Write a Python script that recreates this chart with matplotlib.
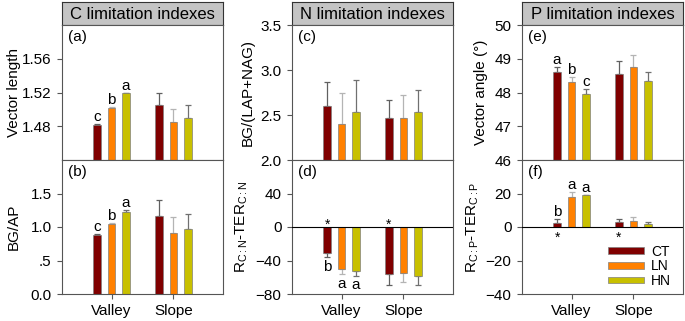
import matplotlib
matplotlib.use("Agg")
import matplotlib.pyplot as plt
from matplotlib.patches import Patch

plt.rcParams['font.family'] = ['Liberation Sans', 'DejaVu Sans']
plt.rcParams['mathtext.fontset'] = 'custom'
plt.rcParams['mathtext.rm'] = 'Liberation Sans'
plt.rcParams['mathtext.it'] = 'Liberation Sans:italic'

sites = ['Valley', 'Slope']
treatments = ['CT', 'LN', 'HN']
colors = ['#800000', '#ff8000', '#c8c000']
err_colors = ['#606060', '#b4b4b4', '#707070']

# rows: CT, LN, HN ; columns: Valley, Slope
vl_mean = [[1.481, 1.505], [1.502, 1.485], [1.519, 1.490]]
vl_err = [[0.002, 0.015], [0.001, 0.016], [0.001, 0.0155]]
vl_letters = [['c', ''], ['b', ''], ['a', '']]

bgap_mean = [[0.88, 1.17], [1.045, 0.915], [1.225, 0.965]]
bgap_err = [[0.01, 0.235], [0.01, 0.24], [0.025, 0.225]]
bgap_letters = [['c', ''], ['b', ''], ['a', '']]

bgn_mean = [[2.604, 2.463], [2.403, 2.47], [2.534, 2.534]]
bgn_err = [[0.265, 0.2], [0.343, 0.25], [0.354, 0.242]]

rcn_mean = [[-31.2, -56.0], [-49.6, -55.2], [-52.0, -58.0]]
rcn_err = [[5.2, 13.6], [6.8, 10.0], [6.0, 11.6]]
rcn_letters = [['b', ''], ['a', ''], ['a', '']]
rcn_stars = ['*', '*']

va_mean = [[48.62, 48.55], [48.31, 48.76], [47.95, 48.34]]
va_err = [[0.15, 0.38], [0.14, 0.36], [0.14, 0.27]]
va_letters = [['a', ''], ['b', ''], ['c', '']]

rcp_mean = [[2.6, 3.2], [18.0, 3.8], [19.0, 1.8]]
rcp_err = [[2.4, 1.4], [3.0, 2.2], [0.4, 1.0]]
rcp_letters = [['b', ''], ['a', ''], ['a', '']]
rcp_stars = ['*', '*']

titles = ['C limitation indexes', 'N limitation indexes', 'P limitation indexes']

W, H = 685, 321
fig = plt.figure(figsize=(W / 100, H / 100), dpi=100)

col_left = [62, 292, 522]
ax_w = 161
spine_c = '#555555'
offsets = [-0.234, 0.0, 0.234]
bar_w = 0.124


def fx(px):
    return px / W


def fy(py_top, py_bot):
    return (H - py_bot) / H, (py_bot - py_top) / H


def make_ax(col, top):
    if top:
        b, h = fy(25, 160)
    else:
        b, h = fy(160, 294)
    ax = fig.add_axes([fx(col_left[col]), b, fx(ax_w), h])
    for s in ax.spines.values():
        s.set_color(spine_c)
        s.set_linewidth(0.8)
    ax.tick_params(axis='y', direction='out', length=3.5, width=0.8,
                   color=spine_c, labelsize=11, pad=4)
    ax.set_xlim(0.2, 2.8)
    if top:
        ax.set_xticks([])
    else:
        ax.set_xticks([1, 2])
        ax.set_xticklabels(sites)
        ax.tick_params(axis='x', direction='out', length=3.5, width=0.8,
                       color=spine_c, labelsize=11, pad=4)
    return ax


def draw_bars(ax, mean, err, letters=None, stars=None, star_up=True):
    for i in range(3):
        xs = [s + 1 + offsets[i] for s in range(2)]
        ax.bar(xs, mean[i], width=bar_w, color=colors[i],
               edgecolor='#808080', linewidth=0.5, zorder=2)
        lo = [e if m < 0 else 0 for m, e in zip(mean[i], err[i])]
        hi = [e if m >= 0 else 0 for m, e in zip(mean[i], err[i])]
        ax.errorbar(xs, mean[i], yerr=[lo, hi], fmt='none',
                    ecolor=err_colors[i], elinewidth=0.9, capsize=2,
                    capthick=0.9, zorder=1)
        if letters:
            for x, m, e, t in zip(xs, mean[i], err[i], letters[i]):
                if not t:
                    continue
                if m >= 0:
                    ax.annotate(t, (x, m + e), xytext=(0, 0),
                                textcoords='offset points', ha='center',
                                va='bottom', fontsize=11)
                else:
                    ax.annotate(t, (x, m - e), xytext=(0, -2),
                                textcoords='offset points', ha='center',
                                va='top', fontsize=11)
    if stars:
        for s, t in enumerate(stars):
            x = s + 1 + offsets[0]
            if star_up:
                ax.annotate(t, (x, 0), xytext=(0, -1.5),
                            textcoords='offset points', ha='center',
                            va='baseline', fontsize=10)
            else:
                ax.annotate(t, (x, 0), xytext=(0, -11),
                            textcoords='offset points', ha='center',
                            va='baseline', fontsize=10)


def ylab(ax, text, dist):
    ax.text(-dist / ax_w, 0.5, text, transform=ax.transAxes, rotation=90,
            ha='center', va='center', fontsize=11)


def panel_tag(ax, t):
    ax.text(0.035, 0.96, t, transform=ax.transAxes, ha='left', va='top',
            fontsize=11)


# title boxes
for c in range(3):
    b, h = fy(2, 25)
    tax = fig.add_axes([fx(col_left[c]), b, fx(ax_w), h])
    tax.set_facecolor('#c4c4c4')
    tax.set_xticks([])
    tax.set_yticks([])
    for s in tax.spines.values():
        s.set_color('#333333')
        s.set_linewidth(0.8)
    tax.text(0.5, 0.45, titles[c], transform=tax.transAxes, ha='center',
             va='center', fontsize=12)

# (a)
ax = make_ax(0, True)
draw_bars(ax, vl_mean, vl_err, vl_letters)
ax.set_ylim(1.44, 1.60)
ax.set_yticks([1.48, 1.52, 1.56])
ax.set_yticklabels(['1.48', '1.52', '1.56'])
ylab(ax, 'Vector length', 48)
panel_tag(ax, '(a)')

# (b)
ax = make_ax(0, False)
draw_bars(ax, bgap_mean, bgap_err, bgap_letters)
ax.set_ylim(0, 2.0)
ax.set_yticks([0, 0.5, 1.0, 1.5])
ax.set_yticklabels(['0.0', '.5', '1.0', '1.5'])
ylab(ax, 'BG/AP', 48)
panel_tag(ax, '(b)')

# (c)
ax = make_ax(1, True)
draw_bars(ax, bgn_mean, bgn_err)
ax.set_ylim(2.0, 3.5)
ax.set_yticks([2.0, 2.5, 3.0, 3.5])
ax.set_yticklabels(['2.0', '2.5', '3.0', '3.5'])
ylab(ax, 'BG/(LAP+NAG)', 44)
panel_tag(ax, '(c)')

# (d)
ax = make_ax(1, False)
ax.axhline(0, color='black', linewidth=0.8, zorder=3)
draw_bars(ax, rcn_mean, rcn_err, rcn_letters, rcn_stars, star_up=True)
ax.set_ylim(-80, 80)
ax.set_yticks([-80, -40, 0, 40])
ylab(ax, r'R$_{\mathrm{C:N}}$-TER$_{\mathrm{C:N}}$', 50)
panel_tag(ax, '(d)')

# (e)
ax = make_ax(2, True)
draw_bars(ax, va_mean, va_err, va_letters)
ax.set_ylim(46, 50)
ax.set_yticks([46, 47, 48, 49, 50])
ylab(ax, 'Vector angle (°)', 41)
panel_tag(ax, '(e)')

# (f)
ax = make_ax(2, False)
ax.axhline(0, color='black', linewidth=0.8, zorder=3)
draw_bars(ax, rcp_mean, rcp_err, rcp_letters, rcp_stars, star_up=False)
ax.set_ylim(-40, 40)
ax.set_yticks([-40, -20, 0, 20])
ylab(ax, r'R$_{\mathrm{C:P}}$-TER$_{\mathrm{C:P}}$', 49.5)
panel_tag(ax, '(f)')
handles = [Patch(facecolor=c, edgecolor='#808080', linewidth=0.5)
           for c in colors]
ax.legend(handles, treatments, loc='upper left', bbox_to_anchor=(0.5, 0.41),
          frameon=False, fontsize=10, handlelength=2.6, handleheight=0.35,
          labelspacing=0.05, handletextpad=0.5, borderaxespad=0)

fig.savefig('out.png', dpi=100)
